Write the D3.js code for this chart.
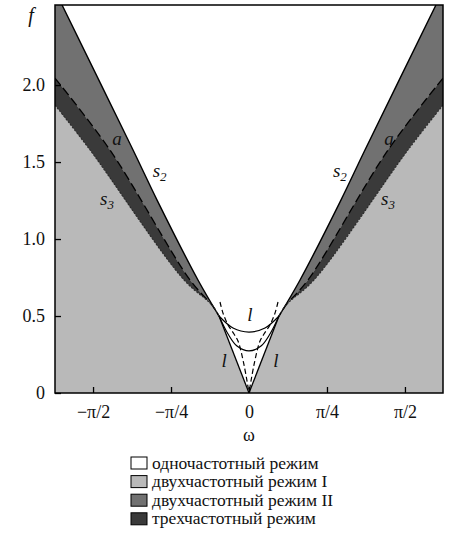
<!DOCTYPE html>
<html><head><meta charset="utf-8">
<script src="https://cdn.jsdelivr.net/npm/d3@7/dist/d3.min.js"></script>
<style>
body{margin:0;background:#fff;}
svg text{font-family:"Liberation Serif","Times New Roman",serif;fill:#111;}
</style></head>
<body><svg id="c" width="450" height="547"></svg>
<script>
// ---- data (ω, f) ----
const xTicks = [-Math.PI/2, -Math.PI/4, 0, Math.PI/4, Math.PI/2];
const xTickLabels = ["\u2212\u03c0/2", "\u2212\u03c0/4", "0", "\u03c0/4", "\u03c0/2"];
const yTicks = [0, 0.5, 1.0, 1.5, 2.0];
const yTickLabels = ["0", "0.5", "1.0", "1.5", "2.0"];

const s2Left  = [[-1.883,2.52],[-1.168,1.578],[-0.926,1.253],[-0.514,0.734],[-0.302,0.50]];
const s2Right = [[1.883,2.52],[1.168,1.578],[0.926,1.253],[0.514,0.734],[0.302,0.50]];
const aLeft   = [[-1.954,2.045],[-1.400,1.578],[-0.594,0.734],[-0.373,0.571],[-0.302,0.50]];
const aRight  = [[1.954,2.045],[1.400,1.578],[0.594,0.734],[0.373,0.571],[0.302,0.50]];
const s3Left  = [[-1.954,1.870],[-1.601,1.578],[-0.655,0.734],[-0.373,0.571],[-0.302,0.50]];
const s3Right = [[1.954,1.870],[1.601,1.578],[0.655,0.734],[0.373,0.571],[0.302,0.50]];
const vLeft   = [[-0.302,0.50],[0,0]];
const vRight  = [[0.302,0.50],[0,0]];
const upperU  = [[-0.302,0.50],[-0.161,0.422],[0,0.396],[0.161,0.422],[0.302,0.50]];
const lowerU  = [[-0.302,0.50],[-0.211,0.383],[-0.121,0.305],[0,0.273],[0.121,0.305],[0.211,0.383],[0.302,0.50]];
const lDashLeft  = [[-0.292,0.591],[-0.262,0.519],[-0.211,0.442],[-0.151,0.383],[-0.111,0.338],[-0.050,0.182],[0,0]];
const lDashRight = [[0.292,0.591],[0.262,0.519],[0.211,0.442],[0.151,0.383],[0.111,0.338],[0.050,0.182],[0,0]];

const legendLabels = ["одночастотный режим","двухчастотный режим I","двухчастотный режим II","трехчастотный режим"];
const legendColors = ["#ffffff","#b9b9b9","#717171","#3a3a3a"];

// ---- drawing ----
const svg = d3.select("#c");
const W = {l:55, r:443, t:5, b:393};
const x = d3.scaleLinear().domain([-1.954, 1.954]).range([W.l, W.r]);
const y = d3.scaleLinear().domain([0, 2.52]).range([W.b, W.t]);
const xMin = x.domain()[0], xMax = x.domain()[1], yMax = y.domain()[1];

svg.append("clipPath").attr("id","clip").append("rect")
  .attr("x",W.l).attr("y",W.t).attr("width",W.r-W.l).attr("height",W.b-W.t);
const g = svg.append("g").attr("clip-path","url(#clip)");

const line = d3.line().x(d=>x(d[0])).y(d=>y(d[1])).curve(d3.curveCatmullRom.alpha(0.5));
const poly = d3.line().x(d=>x(d[0])).y(d=>y(d[1]));

// background: two-frequency I
g.append("rect").attr("x",W.l).attr("y",W.t).attr("width",W.r-W.l).attr("height",W.b-W.t)
  .attr("fill",legendColors[1]);

function band(upper, lower) {
  return line(upper) + "L" + line(lower.slice().reverse()).slice(1) + "Z";
}
// medium band (between s2 and a) + corner
[[s2Left,aLeft],[s2Right,aRight]].forEach(([s,a])=>{
  const side = s[0][0] < 0 ? xMin : xMax;
  const path = line(s) + "L" + line(a.slice().reverse()).slice(1) +
      "L" + x(side) + "," + y(yMax) + "Z";
  g.append("path").attr("d",path).attr("fill",legendColors[2]);
});
// dark band (between a and s3)
[[aLeft,s3Left],[aRight,s3Right]].forEach(([a,s])=>{
  g.append("path").attr("d", band(a,s)).attr("fill",legendColors[3]);
});
// white region
const whitePath = line(s2Left) + "L" + x(0) + "," + y(0) + "L" +
   line(s2Right.slice().reverse()).slice(1) + "Z";
g.append("path").attr("d",whitePath).attr("fill","#fff");

// lines
const L = g.append("g").attr("fill","none").attr("stroke","#000");
[s2Left,s2Right].forEach(d=>L.append("path").attr("d",line(d)).attr("stroke-width",1.4));
[vLeft,vRight].forEach(d=>L.append("path").attr("d",poly(d)).attr("stroke-width",1.3));
[aLeft,aRight].forEach(d=>L.append("path").attr("d",line(d)).attr("stroke-width",1.3).attr("stroke-dasharray","9,4"));
[s3Left,s3Right].forEach(d=>L.append("path").attr("d",line(d)).attr("stroke-width",1.1).attr("stroke-dasharray","2,1.5").attr("stroke","#2a2a2a"));
L.append("path").attr("d",line(upperU)).attr("stroke-width",1.2);
L.append("path").attr("d",line(lowerU)).attr("stroke-width",1.2);
[lDashLeft,lDashRight].forEach(d=>L.append("path").attr("d",line(d)).attr("stroke-width",1.2).attr("stroke-dasharray","5,3"));

// frame
svg.append("rect").attr("x",W.l).attr("y",W.t).attr("width",W.r-W.l).attr("height",W.b-W.t)
  .attr("fill","none").attr("stroke","#000").attr("stroke-width",1.5);

// axes
const xa = svg.append("g").attr("transform",`translate(0,${W.b})`)
  .call(d3.axisBottom(x).tickValues(xTicks).tickSizeInner(-6).tickSizeOuter(0).tickPadding(12)
     .tickFormat((d,i)=>xTickLabels[i]));
const ya = svg.append("g").attr("transform",`translate(${W.l},0)`)
  .call(d3.axisLeft(y).tickValues(yTicks).tickSizeInner(-6).tickSizeOuter(0).tickPadding(10)
     .tickFormat((d,i)=>yTickLabels[i]));
[xa,ya].forEach(a=>{
  a.select(".domain").remove();
  a.selectAll(".tick line").attr("stroke","#000").attr("stroke-width",1.3);
  a.selectAll(".tick text").attr("font-size",18).attr("fill","#111")
    .style("font-family","'Liberation Serif',serif");
});

// axis titles
svg.append("text").attr("x",x(0)).attr("y",441).attr("text-anchor","middle")
  .attr("font-size",18).text("\u03c9");
svg.append("text").attr("x",31).attr("y",22).attr("text-anchor","middle")
  .attr("font-size",20).attr("font-style","italic").text("f");

// curve labels
function lab(px,py,t,sub){
  const tx = svg.append("text").attr("x",px).attr("y",py).attr("font-size",19)
    .attr("font-style","italic").attr("text-anchor","middle").text(t);
  if(sub) tx.append("tspan").attr("font-size",13).attr("dy",4).text(sub);
}
lab(x(-1.33),y(1.61),"a");
lab(x(1.41),y(1.61),"a");
lab(x(-0.90),y(1.40),"s","2");
lab(x(0.915),y(1.40),"s","2");
lab(x(-1.43),y(1.22),"s","3");
lab(x(1.40),y(1.22),"s","3");
lab(x(0.01),y(0.47),"l");
lab(x(-0.25),y(0.17),"l");
lab(x(0.27),y(0.17),"l");

// legend
const lg = svg.append("g");
legendLabels.forEach((t,i)=>{
  const yy = 457 + i*18.6;
  lg.append("rect").attr("x",131).attr("y",yy).attr("width",16).attr("height",12)
    .attr("fill",legendColors[i]).attr("stroke","#000").attr("stroke-width",1);
  lg.append("text").attr("x",152).attr("y",yy+11.5).attr("font-size",17.5).text(t);
});
</script></body></html>
